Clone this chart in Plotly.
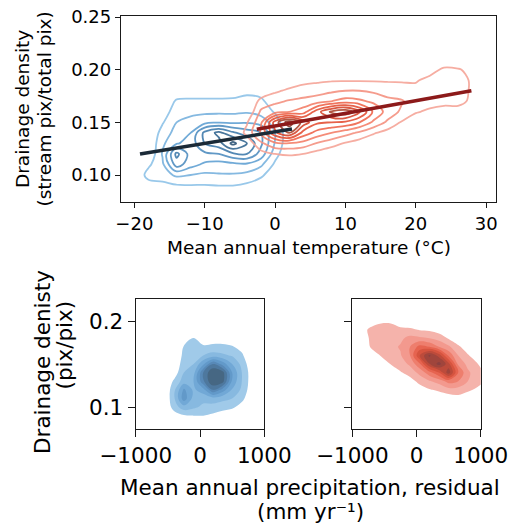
import plotly.graph_objects as go

# ---------------- data ----------------
# Top panel: relative KDE density (level units) for cold group, by column (x) and row (y)
cold_x = [-22, -20, -18, -16, -14, -12, -10, -8, -6, -4, -2, 0, 2, 4]
cold_y = [0.08, 0.09, 0.10, 0.11, 0.12, 0.13, 0.14, 0.15, 0.16, 0.17, 0.18, 0.19]
cold_z_cols = [
    [0, 0, 0, 0, 0, 0, 0, 0, 0, 0, 0, 0],
    [0, 0, 0, 0, 0, 0, 0, 0, 0, 0, 0, 0],
    [0, 0.5, 1.4, 0.8, 0, 0, 0, 0, 0, 0, 0, 0],
    [0, 0.7, 1.5, 1.8, 2.1, 1.8, 1.4, 0.9, 0.4, 0.1, 0, 0],
    [0.1, 0.9, 2.2, 4.5, 5.3, 2.9, 2.4, 2.0, 1.6, 1.15, 0.3, 0],
    [0.1, 0.95, 2.0, 3.4, 3.6, 3.4, 3.0, 2.4, 1.7, 1.2, 0.4, 0],
    [0.1, 0.95, 1.8, 2.8, 3.8, 5.0, 5.3, 2.7, 1.8, 1.2, 0.4, 0],
    [0.1, 1.0, 1.9, 2.6, 4.0, 5.6, 6.3, 2.9, 1.8, 1.2, 0.4, 0],
    [0.1, 1.0, 1.9, 2.7, 4.8, 7.3, 5.2, 2.8, 1.8, 1.25, 0.4, 0],
    [0, 0.8, 1.7, 2.8, 5.0, 6.0, 4.5, 2.9, 1.9, 1.4, 0.7, 0],
    [0, 0.4, 1.2, 2.2, 3.6, 4.2, 4.0, 2.6, 1.6, 1.2, 0.6, 0],
    [0, 0, 0.3, 0.8, 1.4, 1.9, 2.0, 1.5, 0.9, 0.4, 0.1, 0],
    [0, 0, 0, 0, 0.1, 0.2, 0.2, 0.1, 0, 0, 0, 0],
    [0, 0, 0, 0, 0, 0, 0, 0, 0, 0, 0, 0],
]

# Top panel: warm group
warm_x = [-6, -4, -2, 0, 2, 4, 6, 8, 10, 12, 14, 16, 18, 20, 22, 24, 26, 28, 30]
warm_y = [0.10, 0.11, 0.12, 0.13, 0.14, 0.15, 0.16, 0.17, 0.18, 0.19, 0.20, 0.21]
warm_z_cols = [
    [0, 0, 0, 0, 0, 0, 0, 0, 0, 0, 0, 0],
    [0, 0, 0, 0.3, 1.3, 0.9, 0, 0, 0, 0, 0, 0],
    [0, 0, 0.6, 1.8, 3.2, 2.8, 2.2, 1.3, 0.3, 0, 0, 0],
    [0, 0.3, 1.0, 2.8, 5.8, 6.5, 2.6, 1.8, 0.8, 0.1, 0, 0],
    [0, 0.4, 1.1, 2.9, 7.0, 8.6, 3.0, 2.1, 1.2, 0.3, 0, 0],
    [0, 0.2, 1.0, 2.6, 4.6, 6.6, 3.5, 2.3, 1.4, 0.7, 0, 0],
    [0, 0, 0.6, 1.9, 3.6, 5.2, 5.6, 2.5, 1.6, 0.8, 0, 0],
    [0, 0, 0.3, 1.4, 3.0, 5.0, 7.2, 3.0, 1.8, 0.9, 0, 0],
    [0, 0, 0.1, 0.9, 2.4, 4.8, 7.8, 3.4, 2.0, 0.9, 0, 0],
    [0, 0, 0, 0.5, 1.8, 4.0, 6.2, 3.2, 2.0, 0.9, 0, 0],
    [0, 0, 0, 0.2, 1.1, 2.8, 3.8, 2.8, 1.8, 0.9, 0, 0],
    [0, 0, 0, 0, 0.6, 1.8, 2.6, 2.3, 1.5, 0.9, 0, 0],
    [0, 0, 0, 0, 0.1, 0.9, 1.8, 2.1, 1.4, 0.9, 0, 0],
    [0, 0, 0, 0, 0, 0.3, 1.1, 1.5, 1.3, 0.9, 0.2, 0],
    [0, 0, 0, 0, 0, 0.1, 0.8, 1.4, 1.4, 1.3, 0.6, 0],
    [0, 0, 0, 0, 0, 0, 0.6, 1.3, 1.4, 1.4, 1.2, 0.2],
    [0, 0, 0, 0, 0, 0, 0.6, 1.3, 1.3, 1.3, 1.1, 0.1],
    [0, 0, 0, 0, 0, 0, 0, 0.8, 0.9, 0.9, 0.7, 0],
    [0, 0, 0, 0, 0, 0, 0, 0, 0, 0, 0, 0],
]

# Regression lines (endpoints)
cold_fit_x = [-19.2, 2.4]
cold_fit_y = [0.1200, 0.1436]
warm_fit_x = [-2.6, 27.9]
warm_fit_y = [0.1434, 0.1800]

# Bottom-left: cold group, precipitation residual vs drainage density
pcold_x = [-700, -550, -400, -250, -100, 50, 200, 350, 500, 650, 800, 950]
pcold_y = [0.08, 0.09, 0.10, 0.11, 0.12, 0.13, 0.14, 0.15, 0.16, 0.17, 0.18, 0.19]
pcold_z_cols = [
    [0, 0, 0, 0, 0, 0, 0, 0, 0, 0, 0, 0],
    [0, 0, 0, 0, 0, 0, 0, 0, 0, 0, 0, 0],
    [0, 0.5, 1.5, 1.9, 1.8, 1.2, 0.4, 0.1, 0, 0, 0, 0],
    [0.1, 0.9, 2.6, 4.6, 4.2, 2.5, 2.0, 1.6, 1.3, 1.1, 0.1, 0],
    [0.1, 1.0, 2.2, 2.6, 2.8, 3.0, 2.6, 2.0, 1.7, 1.5, 1.1, 0],
    [0.1, 1.0, 1.8, 2.3, 3.6, 5.8, 6.0, 3.8, 2.0, 1.2, 0.3, 0],
    [0, 0.8, 1.6, 2.6, 6.0, 8.0, 8.0, 6.0, 2.4, 1.3, 0.4, 0],
    [0, 0.5, 1.4, 2.3, 4.6, 7.5, 7.5, 4.6, 2.2, 1.3, 0.4, 0],
    [0, 0.2, 1.2, 2.0, 2.9, 3.8, 4.0, 3.0, 1.9, 1.1, 0.2, 0],
    [0, 0, 0.6, 1.3, 1.8, 2.0, 2.0, 1.7, 1.2, 0.6, 0, 0],
    [0, 0, 0, 0.2, 0.4, 0.5, 0.5, 0.3, 0, 0, 0, 0],
    [0, 0, 0, 0, 0, 0, 0, 0, 0, 0, 0, 0],
]

# Bottom-right: warm group
pwarm_x = [-1000, -850, -700, -550, -400, -250, -100, 50, 200, 350, 500, 650, 800, 950, 1100]
pwarm_y = [0.08, 0.09, 0.10, 0.11, 0.12, 0.13, 0.14, 0.15, 0.16, 0.17, 0.18, 0.19, 0.20, 0.21]
pwarm_z_cols = [
    [0, 0, 0, 0, 0, 0, 0, 0, 0, 0, 0, 0, 0, 0],
    [0, 0, 0, 0, 0, 0, 0, 0, 0, 0, 0, 0.6, 0, 0],
    [0, 0, 0, 0, 0, 0, 0, 0, 0.3, 1.2, 1.4, 1.3, 0.4, 0],
    [0, 0, 0, 0, 0, 0, 0, 0.3, 1.1, 1.5, 1.6, 1.5, 0.8, 0],
    [0, 0, 0, 0, 0, 0, 0.2, 1.05, 1.6, 1.7, 1.7, 1.5, 0.8, 0],
    [0, 0, 0, 0, 0, 0, 0.9, 1.5, 1.9, 2.1, 1.8, 1.3, 0.2, 0],
    [0, 0, 0, 0, 0, 0.6, 1.4, 2.2, 3.0, 3.0, 2.3, 1.2, 0.1, 0],
    [0, 0, 0, 0, 0.5, 1.3, 2.3, 3.8, 6.0, 4.4, 2.2, 0.9, 0, 0],
    [0, 0, 0, 0.1, 0.9, 1.9, 3.6, 6.9, 8.2, 4.0, 2.0, 0.8, 0, 0],
    [0, 0, 0, 0.2, 1.2, 2.4, 5.0, 8.4, 6.6, 3.0, 1.6, 0.5, 0, 0],
    [0, 0, 0, 0.4, 1.6, 3.4, 7.6, 6.4, 3.8, 2.2, 0.9, 0, 0, 0],
    [0, 0, 0, 0.6, 1.6, 3.0, 4.0, 2.8, 2.0, 1.2, 0.3, 0, 0, 0],
    [0, 0, 0, 0.3, 1.2, 2.0, 2.2, 1.7, 1.1, 0.4, 0, 0, 0, 0],
    [0, 0, 0, 0, 0.8, 1.4, 1.4, 1.05, 0.4, 0, 0, 0, 0, 0],
    [0, 0, 0, 0, 0.3, 0.8, 0.7, 0.2, 0, 0, 0, 0, 0, 0],
]

top_xticks = [-20, -10, 0, 10, 20, 30]
top_yticks = [0.10, 0.15, 0.20, 0.25]
bot_xticks = [-1000, 0, 1000]
bot_yticks = [0.1, 0.2]


def rows(cols):
    return [list(r) for r in zip(*cols)]


FONT = "DejaVu Sans"
AX = "#1a1a1a"

blue_lines = [[0, "#8ec3e8"], [0.35, "#5f9fd2"], [0.7, "#3e78a8"], [1, "#2f5677"]]
red_lines = [[0, "#f6a598"], [0.3, "#f47e68"], [0.5, "#ec583c"], [0.72, "#d4462e"],
             [0.86, "#a9452f"], [1, "#8a3a2d"]]

blue_fills = ["#a0cae9", "#87b9e0", "#71a8d6", "#6299c9", "#5889b7", "#4e789e", "#466783"]
red_fills = ["#f5b3ab", "#f3998e", "#ee7e6d", "#e66450", "#d6543f", "#bc4b3b", "#a0453c", "#8b4040"]


def fill_scale(colors):
    n = len(colors)
    sc = [[0, "rgba(255,255,255,0)"]]
    for i, c in enumerate(colors):
        sc.append([(i + 1) / n, c])
    return sc


fig = go.Figure()

fig.add_trace(go.Contour(
    x=cold_x, y=cold_y, z=rows(cold_z_cols), autocontour=False,
    contours=dict(coloring="lines", start=1, end=7, size=1),
    colorscale=blue_lines, showscale=False, opacity=0.9,
    line=dict(width=1.8, smoothing=1.0), hoverinfo="skip", xaxis="x", yaxis="y"))
fig.add_trace(go.Contour(
    x=warm_x, y=warm_y, z=rows(warm_z_cols), autocontour=False,
    contours=dict(coloring="lines", start=1, end=8, size=1),
    colorscale=red_lines, showscale=False, opacity=0.9,
    line=dict(width=1.8, smoothing=1.0), hoverinfo="skip", xaxis="x", yaxis="y"))
fig.add_trace(go.Scatter(x=cold_fit_x, y=cold_fit_y, mode="lines",
                         line=dict(color="#1b2a37", width=3.6), xaxis="x", yaxis="y"))
fig.add_trace(go.Scatter(x=warm_fit_x, y=warm_fit_y, mode="lines",
                         line=dict(color="#8c1a1a", width=3.6), xaxis="x", yaxis="y"))

fig.add_trace(go.Contour(
    x=pcold_x, y=pcold_y, z=rows(pcold_z_cols), autocontour=False,
    contours=dict(coloring="fill", start=1, end=7, size=1),
    colorscale=fill_scale(blue_fills), showscale=False,
    line=dict(width=0, smoothing=1.0), hoverinfo="skip", xaxis="x2", yaxis="y2"))
fig.add_trace(go.Contour(
    x=pwarm_x, y=pwarm_y, z=rows(pwarm_z_cols), autocontour=False,
    contours=dict(coloring="fill", start=1, end=8, size=1),
    colorscale=fill_scale(red_fills), showscale=False,
    line=dict(width=0, smoothing=1.0), hoverinfo="skip", xaxis="x3", yaxis="y3"))

W, H = 514, 525


def axstyle(size, ticklen):
    return dict(showline=True, linecolor=AX, linewidth=1.3, mirror=True, ticks="outside",
                ticklen=ticklen, tickwidth=1.3, tickcolor=AX, showgrid=False, zeroline=False,
                automargin=False,
                tickfont=dict(family=FONT, size=size, color="black"), fixedrange=True)


top_y_dom = [1 - 202 / H, 1 - 16 / H]
bot_y_dom = [1 - 428.7 / H, 1 - 299 / H]

fig.update_layout(
    width=W, height=H, margin=dict(l=0, r=0, t=0, b=0, pad=0, autoexpand=False),
    paper_bgcolor="white", plot_bgcolor="white", showlegend=False,
    xaxis=dict(domain=[121 / W, 496 / W], range=[-21.9, 31.4], anchor="y",
               tickvals=top_xticks, **axstyle(18, 5)),
    yaxis=dict(domain=top_y_dom, range=[0.07437, 0.25095], anchor="x",
               tickvals=top_yticks, tickformat=".2f", **axstyle(18, 5)),
    xaxis2=dict(domain=[135.7 / W, 264.3 / W], range=[-1000, 1000], anchor="y2",
                tickvals=bot_xticks, **axstyle(21.5, 7)),
    yaxis2=dict(domain=bot_y_dom, range=[0.0748, 0.2256], anchor="x2",
                tickvals=bot_yticks, tickformat=".1f", **axstyle(21.5, 7)),
    xaxis3=dict(domain=[352.3 / W, 480.7 / W], range=[-1000, 1000], anchor="y3",
                tickvals=bot_xticks, **axstyle(21.5, 7)),
    yaxis3=dict(domain=bot_y_dom, range=[0.0748, 0.2256], anchor="x3",
                tickvals=bot_yticks, showticklabels=False, **axstyle(21.5, 7)),
)


def ann(text, xc, yc, size, angle=0):
    fig.add_annotation(text=text, x=xc / W, y=1 - yc / H, xref="paper", yref="paper",
                       xanchor="center", yanchor="middle", showarrow=False, textangle=angle,
                       font=dict(family=FONT, size=size, color="black"))


ann("Mean annual temperature (°C)", 309, 247, 18.5)
ann("Drainage density", 23, 109, 18.5, -90)
ann("(stream pix/total pix)", 44.5, 109, 18.5, -90)
ann("Drainage denisty", 42, 362, 21.5, -90)
ann("(pix/pix)", 63.5, 345, 21.5, -90)
ann("Mean annual precipitation, residual", 310, 487, 21.5)
ann("(mm yr\u207b\u00b9)", 310, 511.5, 21.5)

fig.write_html("out.html")
